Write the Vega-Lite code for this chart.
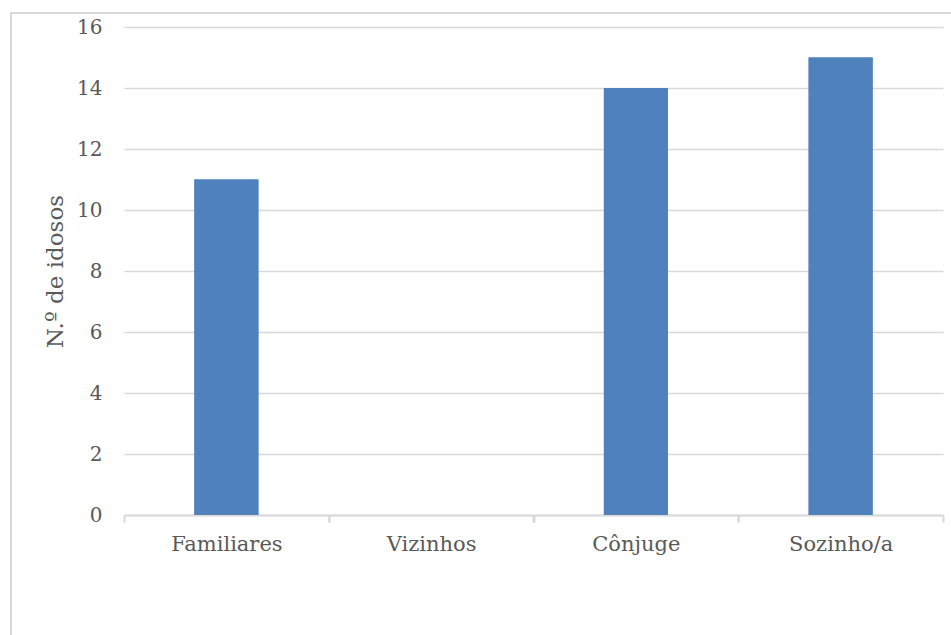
{
  "$schema": "https://vega.github.io/schema/vega-lite/v6.json",
  "autosize": {"type": "none"},
  "padding": {"left": 11, "top": 13, "right": -5, "bottom": -8},
  "width": 945,
  "height": 630,
  "background": "white",
  "config": {
    "view": {"stroke": "#d9d9d9", "strokeWidth": 2},
    "font": "DejaVu Serif"
  },
  "data": {
    "values": [
      {"categoria": "Familiares", "idosos": 11},
      {"categoria": "Vizinhos", "idosos": 0},
      {"categoria": "Cônjuge", "idosos": 14},
      {"categoria": "Sozinho/a", "idosos": 15}
    ]
  },
  "encoding": {
    "x": {
      "field": "categoria",
      "type": "nominal",
      "sort": null,
      "scale": {"range": [113, 932], "paddingInner": 0.6874, "paddingOuter": 0.3437}
    },
    "y": {
      "field": "idosos",
      "type": "quantitative",
      "scale": {"domain": [0, 16], "range": [502, 14], "nice": false},
      "axis": {
        "title": "N.º de idosos",
        "offset": -113,
        "values": [0, 2, 4, 6, 8, 10, 12, 14, 16],
        "labelFont": "DejaVu Serif",
        "labelFontSize": 20,
        "labelColor": "#595959",
        "labelPadding": 22,
        "titleFont": "DejaVu Serif",
        "titleFontSize": 23,
        "titleFontWeight": "normal",
        "titleColor": "#595959",
        "titlePadding": 9,
        "domain": false,
        "ticks": false,
        "grid": true,
        "gridColor": "#d9d9d9",
        "gridWidth": 1.5
      }
    }
  },
  "layer": [
    {
      "mark": {"type": "bar", "color": "#4f81bd"},
      "encoding": {
        "x": {
          "field": "categoria",
          "type": "nominal",
          "sort": null,
          "axis": {
            "title": null,
            "orient": "bottom",
            "offset": -128,
            "labelAngle": 0,
            "labelFont": "DejaVu Serif",
            "labelFontSize": 21,
            "labelColor": "#595959",
            "labelPadding": 11,
            "labelOffset": -102.4,
            "domainColor": "#d9d9d9",
            "domainWidth": 2,
            "tickColor": "#d9d9d9",
            "tickWidth": 2,
            "tickSize": 7,
            "tickOffset": 102.4,
            "grid": false
          }
        }
      }
    },
    {
      "mark": {"type": "bar", "color": "#4f81bd"},
      "encoding": {
        "x": {
          "field": "categoria",
          "type": "nominal",
          "sort": null,
          "axis": {
            "title": null,
            "orient": "bottom",
            "offset": -128,
            "labels": false,
            "domain": false,
            "tickColor": "#d9d9d9",
            "tickWidth": 2,
            "tickSize": 7,
            "tickOffset": -102.4,
            "grid": false
          }
        }
      }
    }
  ],
  "resolve": {"axis": {"x": "independent"}}
}
